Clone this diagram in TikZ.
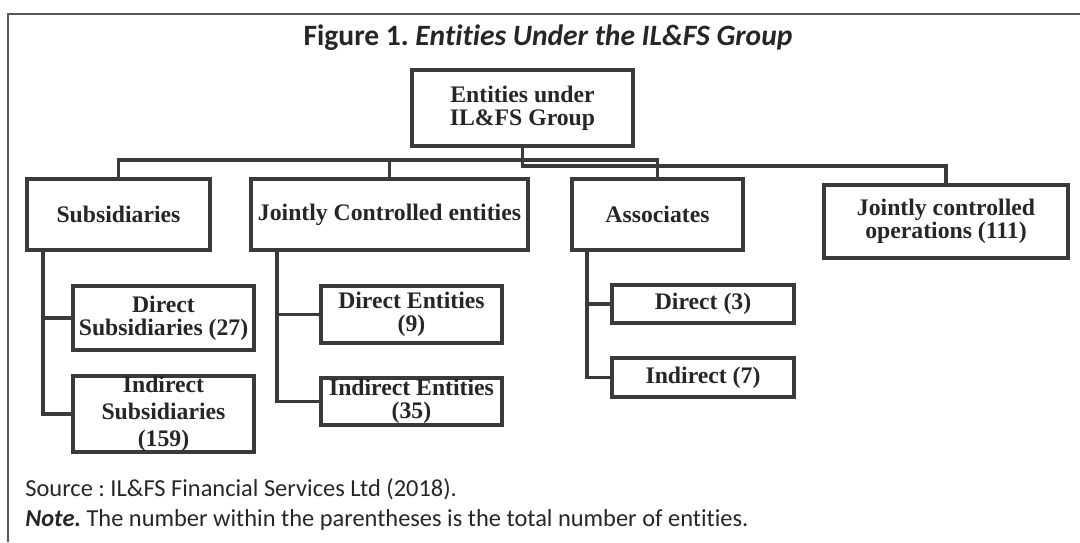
\documentclass[tikz,border=0pt]{standalone}
\usepackage{fontspec}
\setmainfont{Liberation Serif}
\newfontfamily\calibri[Ligatures=NoCommon]{Carlito}
\frenchspacing
\definecolor{linegray}{HTML}{3A3A3A}
\definecolor{inkgray}{HTML}{262626}
\definecolor{framegray}{HTML}{585858}
\tikzset{
  entity/.style={draw=linegray, line width=2.2pt, align=center, inner sep=0pt,
    text=inkgray, font=\bfseries\fontsize{13.5}{13}\selectfont},
  link/.style={draw=linegray, line width=2.2pt},
  frame/.style={draw=framegray, line width=1.6pt},
  caption/.style={font=\calibri\fontsize{13.9}{16}\selectfont, text=inkgray, anchor=base west, inner sep=0pt}
}
\begin{document}
\begin{tikzpicture}[x=0.02cm, y=-0.02cm]
\useasboundingbox (0,0) rectangle (1080,542);
\draw[frame] (8,542) -- (8,14) -- (1080,14);
\node[font=\calibri\bfseries\fontsize{16.8}{20}\selectfont, text=inkgray] (title) at (548,38)
  {Figure 1. \textit{Entities Under the IL\&FS Group}};

\node[entity, minimum width=4.42cm, minimum height=1.52cm] (root) at (522.5,108) {Entities under\\IL\&FS Group};
\node[entity, minimum width=3.66cm, minimum height=1.42cm] (sub) at (118.5,214.5) {Subsidiaries};
\node[entity, minimum width=5.54cm, minimum height=1.42cm] (jce) at (389.5,214.5) {Jointly Controlled entities};
\node[entity, minimum width=3.42cm, minimum height=1.42cm] (asc) at (657.5,214.5) {Associates};
\node[entity, minimum width=4.88cm, minimum height=1.46cm] (joc) at (946,221.5) {Jointly controlled\\operations (111)};

\node[entity, minimum width=3.62cm, minimum height=1.28cm] (dsub) at (163.5,318) {Direct\\Subsidiaries (27)};
\node[entity, minimum width=3.62cm, minimum height=1.44cm, font=\bfseries\fontsize{13.5}{15.5}\selectfont] (isub) at (163.5,414) {Indirect\\Subsidiaries\\(159)};
\node[entity, minimum width=3.62cm, minimum height=1.14cm] (dent) at (411.5,314.5) {Direct Entities\\(9)};
\node[entity, minimum width=3.62cm, minimum height=0.94cm] (ient) at (411.5,401.5) {Indirect Entities\\(35)};
\node[entity, minimum width=3.64cm, minimum height=0.76cm] (dasc) at (703,304) {Direct (3)};
\node[entity, minimum width=3.64cm, minimum height=0.78cm] (iasc) at (703,377.5) {Indirect (7)};

\coordinate (bus) at (522.5,160);
\coordinate (bus2) at (522.5,166);
\draw[link] (root.south) -- (bus2) -| (joc.north);
\draw[link] (bus) -| (sub.north);
\draw[link] (bus) -| (jce.north);
\draw[link] (bus) -| (asc.north);

\draw[link] (sub.south west) ++(18,0) |- (dsub.west);
\draw[link] (sub.south west) ++(18,0) |- (isub.west);
\draw[link] (jce.south west) ++(28,0) |- (dent.west);
\draw[link] (jce.south west) ++(28,0) |- (ient.west);
\draw[link] (asc.south west) ++(17,0) |- (dasc.west);
\draw[link] (asc.south west) ++(17,0) |- (iasc.west);

\node[caption] (source) at (25,496) {Source : IL\&FS Financial Services Ltd (2018).};
\node[caption] (note) at (25,526) {\textbf{\textit{Note.}} The number within the parentheses is the total number of entities.};
\end{tikzpicture}
\end{document}
